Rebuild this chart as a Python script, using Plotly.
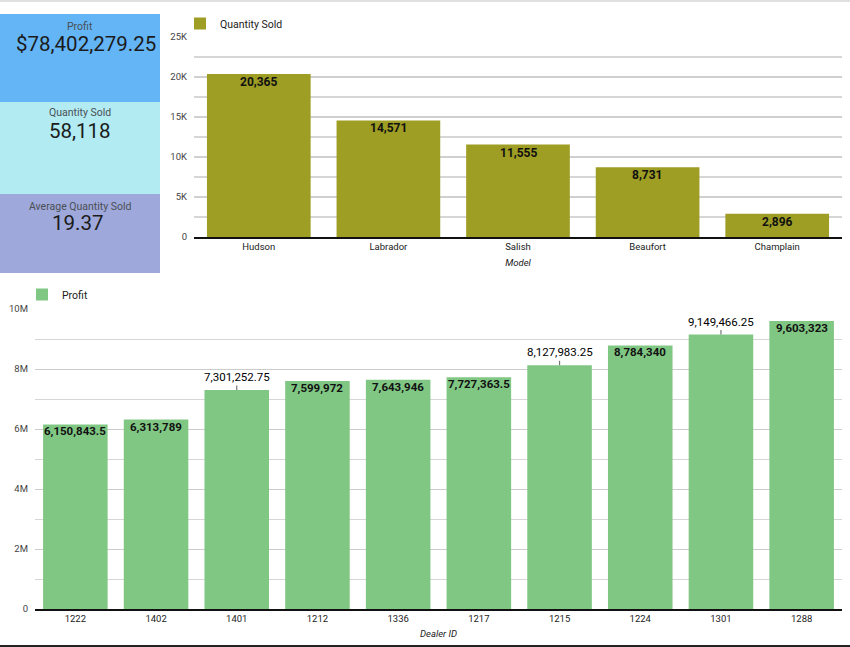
import plotly.graph_objects as go

W, H = 850, 647

# ---------------- data ----------------
models = ["Hudson", "Labrador", "Salish", "Beaufort", "Champlain"]
qty_sold = [20365, 14571, 11555, 8731, 2896]

dealers = ["1222", "1402", "1401", "1212", "1336", "1217", "1215", "1224", "1301", "1288"]
profit = [6150843.5, 6313789, 7301252.75, 7599972, 7643946, 7727363.5,
          8127983.25, 8784340, 9149466.25, 9603323]

qty_ticks = [0, 5000, 10000, 15000, 20000, 25000]
qty_ticktext = ["0", "5K", "10K", "15K", "20K", "25K"]
profit_ticks = [0, 2e6, 4e6, 6e6, 8e6, 10e6]
profit_ticktext = ["0", "2M", "4M", "6M", "8M", "10M"]

avg_qty = 19.37

kpi_labels = ["Profit", "Quantity Sold", "Average Quantity Sold"]
kpi_values = [f"${sum(profit):,.2f}", f"{sum(qty_sold):,}", f"{avg_qty:.2f}"]
kpi_colors = ["#64B5F6", "#B2EBF2", "#9FA8DA"]

# ---------------- helpers ----------------
def px(x):
    return x / W

def py(y):
    return 1 - y / H

FONT = "Roboto"

def fmt(v):
    return f"{v:,}"

qty_text = [fmt(v) for v in qty_sold]
profit_text = [fmt(v) for v in profit]
# labels too wide for the bar go above it with a leader line
inside_mask = [len(t) <= 11 for t in profit_text]

fig = go.Figure()

fig.add_trace(go.Bar(
    x=models, y=qty_sold, name="Quantity Sold",
    marker=dict(color="#9E9D24", line=dict(width=0)),
    xaxis="x", yaxis="y", legend="legend", hoverinfo="skip",
))

fig.add_trace(go.Bar(
    x=dealers, y=profit, name="Profit",
    marker=dict(color="#81C784", line=dict(width=0)),
    xaxis="x2", yaxis="y2", legend="legend2", hoverinfo="skip",
))

annotations = []
# value labels (inside the top of each bar)
for i, (v, t) in enumerate(zip(qty_sold, qty_text)):
    annotations.append(dict(
        x=i, y=v, xref="x", yref="y", text=t, showarrow=False,
        xanchor="center", yanchor="middle", yshift=-8,
        font=dict(family=FONT, size=12, color="#111111", weight="bold"),
    ))
for i, (v, t, m) in enumerate(zip(profit, profit_text, inside_mask)):
    if m:
        annotations.append(dict(
            x=i, y=v, xref="x2", yref="y2", text=t, showarrow=False,
            xanchor="center", yanchor="middle", yshift=-7,
            font=dict(family=FONT, size=11.5, color="#111111", weight="bold"),
        ))
    else:
        annotations.append(dict(
            x=i, y=v, xref="x2", yref="y2", text=t, showarrow=True,
            arrowhead=0, arrowwidth=1.2, arrowcolor="#777777", ax=0, ay=-13,
            standoff=0, startstandoff=0,
            font=dict(family=FONT, size=11.5, color="#000000"),
        ))

shapes = []
card_bounds = [(14, 102), (102, 194), (194, 273)]
label_y = [26, 113, 206]
value_y = [44, 131, 223]
value_x = [86, 80, 78]
for (t, b), c, lab, val, ly, vy, vx in zip(card_bounds, kpi_colors, kpi_labels, kpi_values,
                                           label_y, value_y, value_x):
    shapes.append(dict(type="rect", xref="paper", yref="paper",
                       x0=0, x1=px(160), y0=py(b), y1=py(t),
                       fillcolor=c, line=dict(width=0), layer="below"))
    annotations.append(dict(x=px(80), y=py(ly), xref="paper", yref="paper",
                            text=lab, showarrow=False, xanchor="center", yanchor="middle",
                            font=dict(family=FONT, size=10.5, color="#4a4f55")))
    annotations.append(dict(x=px(vx), y=py(vy), xref="paper", yref="paper",
                            text=val, showarrow=False, xanchor="center", yanchor="middle",
                            font=dict(family=FONT, size=20.5, color="#1b1b1b")))

# page borders
shapes.append(dict(type="line", xref="paper", yref="paper", x0=0, x1=1,
                   y0=py(1), y1=py(1), line=dict(color="#d6d6d6", width=1.5)))
shapes.append(dict(type="line", xref="paper", yref="paper", x0=0, x1=1,
                   y0=py(646), y1=py(646), line=dict(color="#222222", width=2)))

tickfont = dict(family=FONT, size=9.5, color="#444444")

fig.update_layout(
    width=W, height=H,
    margin=dict(l=0, r=0, t=0, b=0, autoexpand=False),
    paper_bgcolor="white", plot_bgcolor="white",
    font=dict(family=FONT),
    showlegend=True,
    xaxis=dict(domain=[px(194), px(842)], anchor="y", type="category",
               range=[-0.5, len(models) - 0.5], fixedrange=True, automargin=False,
               showgrid=False, showline=True, linecolor="#111111", linewidth=1.5,
               ticks="", tickfont=dict(family=FONT, size=9.5, color="#222222"),
               title=dict(text="Model", standoff=8,
                          font=dict(family=FONT, size=9.5, color="#222222", style="italic"))),
    yaxis=dict(domain=[py(237), py(37)], anchor="x", range=[0, 25000], automargin=False,
               tickvals=qty_ticks, ticktext=qty_ticktext,
               showgrid=True, gridcolor="#d0d0d0", gridwidth=1.5,
               minor=dict(dtick=2500, tick0=0, showgrid=True, gridcolor="#d6d6d6", gridwidth=1.5),
               zeroline=False, ticks="", fixedrange=True, tickfont=tickfont,
               ticklabelstandoff=6),
    xaxis2=dict(domain=[px(35), px(842)], anchor="y2", type="category",
                range=[-0.5, len(dealers) - 0.5], fixedrange=True, automargin=False,
                showgrid=False, showline=True, linecolor="#111111", linewidth=1.5,
                ticks="", tickfont=dict(family=FONT, size=9.5, color="#222222"),
                title=dict(text="Dealer ID", standoff=7,
                           font=dict(family=FONT, size=9.5, color="#222222", style="italic"))),
    yaxis2=dict(domain=[py(609), py(309)], anchor="x2", range=[0, 10e6], automargin=False,
                tickvals=profit_ticks, ticktext=profit_ticktext,
                showgrid=True, gridcolor="#cccccc", gridwidth=1.2,
                minor=dict(dtick=1e6, tick0=0, showgrid=True, gridcolor="#d6d6d6", gridwidth=1.2),
                zeroline=False, ticks="", fixedrange=True, tickfont=tickfont,
                ticklabelstandoff=6),
    bargap=0.2,
    legend=dict(x=px(180), y=py(9), xanchor="left", yanchor="top",
                bgcolor="rgba(0,0,0,0)", font=dict(family=FONT, size=10.5, color="#222222"),
                itemclick=False, itemdoubleclick=False),
    legend2=dict(x=px(22), y=py(280), xanchor="left", yanchor="top",
                 bgcolor="rgba(0,0,0,0)", font=dict(family=FONT, size=10.5, color="#222222"),
                 itemclick=False, itemdoubleclick=False),
    shapes=shapes,
    annotations=annotations,
)

post = (
    "var st=document.createElement('style');"
    "st.textContent='html,body{margin:0 !important;padding:0 !important;overflow:hidden !important;}';"
    "document.head.appendChild(st);"
)
fig.write_html("out.html", post_script=post)
